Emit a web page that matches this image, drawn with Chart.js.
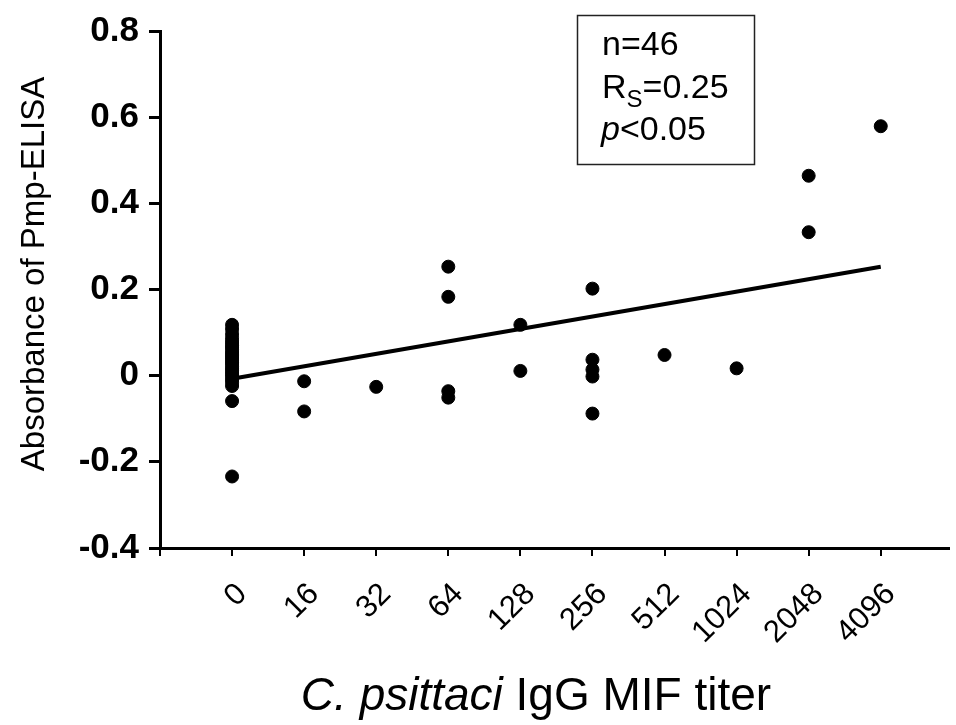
<!DOCTYPE html>
<html>
<head>
<meta charset="utf-8">
<script src="https://cdn.jsdelivr.net/npm/chart.js@4/dist/chart.umd.min.js"></script>
<style>
  html, body { margin: 0; padding: 0; background: #fff; }
  #wrap { width: 956px; height: 725px; position: relative; }
</style>
</head>
<body>
<div id="wrap"><canvas id="grafico"></canvas></div>
<script>
// MIF titer categories (x axis)
const titers = ['0', '16', '32', '64', '128', '256', '512', '1024', '2048', '4096'];

// absorbance values, one list per titer
const abs0 = [0.118, 0.108, 0.097, 0.088, 0.081, 0.076, 0.070, 0.066, 0.061, 0.055, 0.050, 0.046,
              0.041, 0.036, 0.031, 0.027, 0.021, 0.016, 0.012, 0.006, 0.002, -0.004, -0.010,
              -0.016, -0.024, -0.059, -0.234];
const abs16 = [-0.013, -0.083];
const abs32 = [-0.026];
const abs64 = [0.253, 0.183, -0.036, -0.051];
const abs128 = [0.118, 0.011];
const abs256 = [0.202, 0.037, 0.014, -0.002, -0.088];
const abs512 = [0.048];
const abs1024 = [0.017];
const abs2048 = [0.464, 0.333];
const abs4096 = [0.579];
const absByTiter = [abs0, abs16, abs32, abs64, abs128, abs256, abs512, abs1024, abs2048, abs4096];

// regression line at first and last titer
const fitLine = [-0.007, 0.253];

const yTicks = [-0.4, -0.2, 0, 0.2, 0.4, 0.6, 0.8];

const FONT = '"Liberation Sans", Arial, Helvetica, sans-serif';

let puntos = [];
absByTiter.forEach((lista, i) => {
    lista.forEach((v) => puntos.push({ x: i, y: v }));
});

/* --------------------- textos: cuadro, titulos de ejes --------------------- */
const statBox = {
    id: 'statBox',
    afterDraw(chart) {
        const ctx = chart.ctx;
        ctx.save();
        ctx.strokeStyle = '#222';
        ctx.lineWidth = 1.5;
        ctx.strokeRect(577.5, 15.5, 177, 149);
        ctx.fillStyle = '#000';
        ctx.textBaseline = 'alphabetic';
        ctx.textAlign = 'left';
        ctx.font = '34px ' + FONT;
        ctx.fillText('n=46', 602, 55);
        ctx.fillText('R', 602, 98);
        let x = 602 + ctx.measureText('R').width;
        ctx.font = '24px ' + FONT;
        ctx.fillText('S', x, 107);
        x += ctx.measureText('S').width;
        ctx.font = '34px ' + FONT;
        ctx.fillText('=0.25', x, 98);
        ctx.font = 'italic 34px ' + FONT;
        ctx.fillText('p', 601, 140);
        x = 601 + ctx.measureText('p').width;
        ctx.font = '34px ' + FONT;
        ctx.fillText('<0.05', x, 140);

        // x axis title, genus/species in italics
        const partA = 'C. psittaci';
        const partB = ' IgG MIF titer';
        ctx.font = 'italic 46px ' + FONT;
        const wA = ctx.measureText(partA).width;
        ctx.font = '46px ' + FONT;
        const wB = ctx.measureText(partB).width;
        let tx = 536 - (wA + wB) / 2;
        ctx.font = 'italic 46px ' + FONT;
        ctx.fillText(partA, tx, 710);
        ctx.font = '46px ' + FONT;
        ctx.fillText(partB, tx + wA, 710);

        // y axis title
        ctx.translate(44, 274);
        ctx.rotate(-Math.PI / 2);
        ctx.textAlign = 'center';
        ctx.font = '33px ' + FONT;
        ctx.fillText('Absorbance of Pmp-ELISA', 0, 0);
        ctx.restore();
    }
};

let canvasGrafico = document.getElementById('grafico');
let chartGrafico = new Chart(canvasGrafico, {
    type: 'scatter',
    data: {
        datasets: [
            {
                label: 'muestras',
                data: puntos,
                backgroundColor: '#000',
                borderColor: '#000',
                pointRadius: 6.5,
                pointHoverRadius: 6.5
            },
            {
                label: 'ajuste',
                type: 'line',
                data: [{ x: 0, y: fitLine[0] }, { x: titers.length - 1, y: fitLine[1] }],
                borderColor: '#000',
                borderWidth: 4,
                pointRadius: 0,
                fill: false
            }
        ]
    },
    options: {
        responsive: true,
        maintainAspectRatio: false,
        animation: false,
        layout: { padding: { top: 22, right: 1, left: 0, bottom: 0 } },
        plugins: {
            legend: { display: false },
            tooltip: { enabled: false }
        },
        scales: {
            x: {
                type: 'linear',
                min: -1,
                max: 9.94,
                afterFit: (s) => { s.height = 177; },
                afterBuildTicks: (s) => {
                    s.ticks = [{ value: -1 }].concat(titers.map((t, i) => ({ value: i })));
                },
                border: { display: true, color: '#000', width: 3 },
                grid: { drawOnChartArea: false, color: '#000', lineWidth: 2, tickLength: 8 },
                ticks: {
                    minRotation: 45,
                    maxRotation: 45,
                    autoSkip: false,
                    color: '#000',
                    padding: 20,
                    labelOffset: 10,
                    font: { family: FONT, size: 31 },
                    callback: (v) => (v >= 0 ? titers[v] : '')
                }
            },
            y: {
                min: -0.4,
                max: 0.8,
                afterFit: (s) => { s.width = 160; },
                afterBuildTicks: (s) => {
                    s.ticks = yTicks.map((v) => ({ value: v }));
                },
                border: { display: true, color: '#000', width: 3 },
                grid: { drawOnChartArea: false, color: '#000', lineWidth: 3, tickLength: 11 },
                ticks: {
                    color: '#000',
                    padding: 10,
                    font: { family: FONT, size: 35, weight: 'bold' },
                    callback: (v) => (v === 0 ? '0' : Number(v).toFixed(1))
                }
            }
        }
    },
    plugins: [statBox]
});
</script>
</body>
</html>
